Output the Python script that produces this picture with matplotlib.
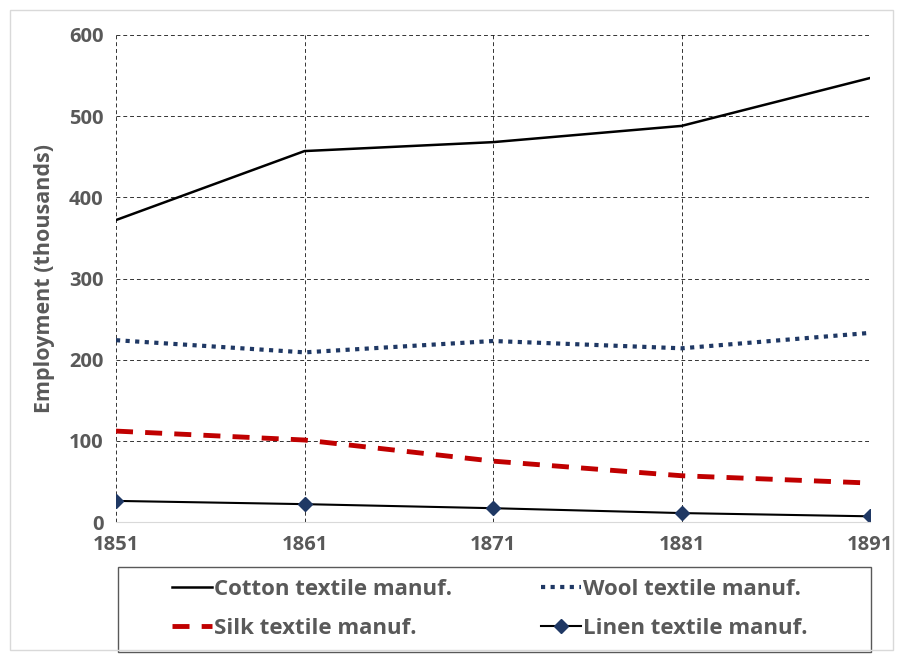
import matplotlib.pyplot as plt

years = [1851, 1861, 1871, 1881, 1891]
cotton = [372, 457, 468, 488, 547]
wool = [224, 209, 223, 214, 233]
silk = [112, 101, 75, 57, 48]
linen = [26, 22, 17, 11, 7]

y_ticks = [0, 100, 200, 300, 400, 500, 600]

plt.rcParams['font.family'] = ['Open Sans', 'DejaVu Sans']
grey = '#595959'
navy = '#1F3864'

fig = plt.figure(figsize=(9.04, 6.60), dpi=100)
ax = fig.add_axes([116 / 904, 1 - 522 / 660, (870 - 116) / 904, (522 - 35) / 660])

h_cotton, = ax.plot(years, cotton, color='black', lw=1.8, label='Cotton textile manuf.')
h_wool, = ax.plot(years, wool, color=navy, lw=3, linestyle=(0, (1, 1.3)), label='Wool textile manuf.')
h_silk, = ax.plot(years, silk, color='#C00000', lw=3.5, linestyle=(0, (3.5, 2.5)), label='Silk textile manuf.')
h_linen, = ax.plot(years, linen, color='black', lw=1.5, marker='D', markersize=7,
                   markerfacecolor=navy, markeredgecolor=navy, label='Linen textile manuf.')

ax.set_xlim(years[0], years[-1])
ax.set_ylim(0, 600)
ax.set_xticks(years)
ax.set_yticks(y_ticks)
ax.grid(True, color='black', linestyle=(0, (4, 3)), linewidth=0.7, alpha=0.8)
ax.set_axisbelow(True)

for side in ['top', 'right', 'left']:
    ax.spines[side].set_visible(False)
ax.spines['bottom'].set_color('#d9d9d9')
ax.tick_params(length=0, labelsize=14.5, colors=grey, pad=9)
for lab in ax.get_xticklabels() + ax.get_yticklabels():
    lab.set_fontweight('bold')
ax.set_ylabel('Employment (thousands)', fontsize=15.5, fontweight='bold', color=grey, labelpad=10)

# matplotlib fills legend column by column, so order handles to get rows as in the original
handles = [h_cotton, h_silk, h_wool, h_linen]
leg = fig.legend(handles=handles, labels=[h.get_label() for h in handles],
                 loc='center', bbox_to_anchor=(490 / 904, 1 - 609 / 660),
                 ncol=2, frameon=False, fontsize=16,
                 handlelength=1.8, handletextpad=0.1, labelspacing=0.8,
                 columnspacing=4.0)
for t in leg.get_texts():
    t.set_fontweight('bold')
    t.set_color(grey)

fig.patches.append(plt.Rectangle((118 / 904, 1 - 652 / 660), (871 - 118) / 904, (652 - 567) / 660,
                                 transform=fig.transFigure, fill=False,
                                 edgecolor=grey, linewidth=1))
fig.patches.append(plt.Rectangle((10 / 904, 10 / 660), 883 / 904, 640 / 660,
                                 transform=fig.transFigure, fill=False,
                                 edgecolor='#d9d9d9', linewidth=1))

fig.savefig('out.png', dpi=100)
